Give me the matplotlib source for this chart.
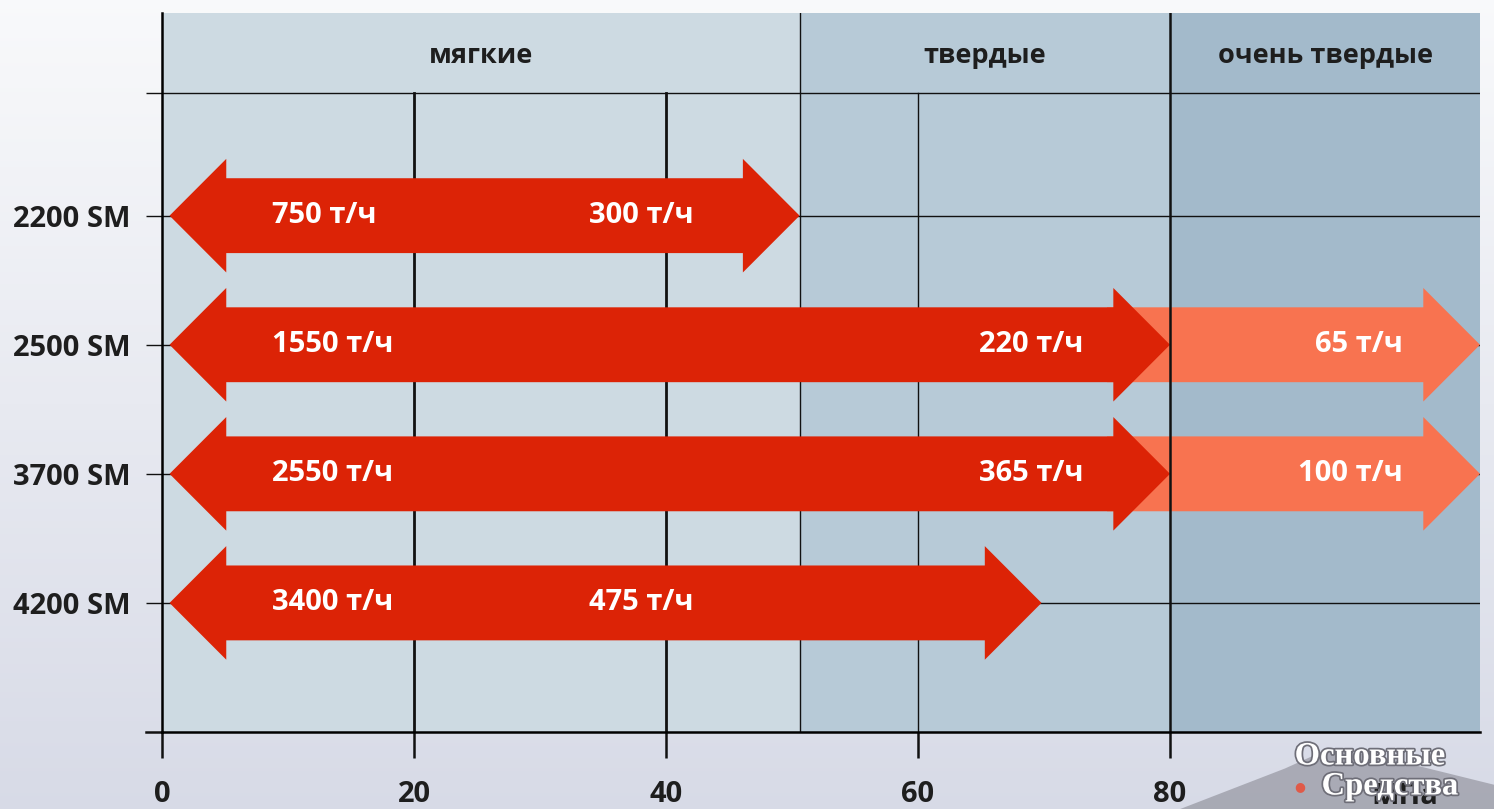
import numpy as np
import matplotlib
matplotlib.use('Agg')
import matplotlib.pyplot as plt
from matplotlib.patches import Polygon
import matplotlib.patheffects as pe

plt.rcParams['font.family'] = ['Open Sans', 'DejaVu Sans']

# data
models = ['2200 SM', '2500 SM', '3700 SM', '4200 SM']
rows = [4, 3, 2, 1]
red_start = [0.6, 0.6, 0.6, 0.6]
red_end = [50.6, 80, 80, 69.8]
orange_start = [None, 75, 75, None]
orange_end = [None, 104.6, 104.6, None]
soft_labels = ['750 т/ч', '1550 т/ч', '2550 т/ч', '3400 т/ч']
mid_labels = ['300 т/ч', '220 т/ч', '365 т/ч', '475 т/ч']
mid_x = [33.9, 64.8, 64.8, 33.9]
hard_labels = [None, '65 т/ч', '100 т/ч', None]

zone_names = ['мягкие', 'твердые', 'очень твердые']
zone_edges = [0, 50.6, 80, 104.6]
zone_colors = ['#cddae2', '#b7cad7', '#a3bacb']
xticks = [0, 20, 40, 60, 80]

HEADER = 4.95
TOP = 5.57
XMAX = 104.6
HL, HH, SH = 4.5, 0.44, 0.29  # arrow head length, head half height, shaft half height
RED = '#dc2306'
ORANGE = '#f87350'
FS = 21


def arrow_pts(x0, x1, y, left=True):
    pts = []
    if left:
        pts += [(x0, y), (x0 + HL, y + HH), (x0 + HL, y + SH)]
    else:
        pts += [(x0, y - SH), (x0, y + SH)]
    pts += [(x1 - HL, y + SH), (x1 - HL, y + HH), (x1, y),
            (x1 - HL, y - HH), (x1 - HL, y - SH)]
    if left:
        pts += [(x0 + HL, y - SH), (x0 + HL, y - HH)]
    return pts


fig = plt.figure(figsize=(14.94, 8.09), dpi=100)

# soft background behind everything
bg = fig.add_axes([0, 0, 1, 1], zorder=-10)
grad = np.linspace(0, 1, 256)[:, None, None]
top_c = np.array([0.975, 0.978, 0.985])
bot_c = np.array([0.845, 0.857, 0.905])
img = top_c * (1 - grad) + bot_c * grad
bg.imshow(np.repeat(img, 2, axis=1), extent=[0, 1, 0, 1], aspect='auto')
bg.add_patch(Polygon([(0.79, 0), (0.86, 0.05), (0.89, 0.075), (0.93, 0.062),
                      (1.0, 0.03), (1.0, 0)], closed=True,
                     facecolor='#8a8a94', alpha=0.6, edgecolor='none'))
bg.set_xlim(0, 1)
bg.set_ylim(0, 1)
bg.axis('off')

ax = fig.add_axes([162 / 1494, 77 / 809, 1318 / 1494, 719 / 809])
ax.patch.set_alpha(0)
ax.set_xlim(0, XMAX)
ax.set_ylim(0, TOP)

for i in range(3):
    ax.axvspan(zone_edges[i], zone_edges[i + 1], color=zone_colors[i], zorder=0, lw=0)
    ax.text((zone_edges[i] + zone_edges[i + 1]) / 2, (HEADER + TOP) / 2 - 0.02, zone_names[i],
            ha='center', va='center', fontsize=19.5, fontweight='bold', color='#1e1e1e')

# grid
for y in rows + [HEADER]:
    ax.plot([0, XMAX], [y, y], color='#111111', lw=1.0, zorder=1)
for x, w in zip([20, 40, 60], [2.0, 2.0, 1.0]):
    ax.plot([x, x], [0, HEADER], color='#111111', lw=w, zorder=1)
ax.plot([50.6, 50.6], [0, TOP], color='#111111', lw=1.0, zorder=1)
ax.plot([80, 80], [0, TOP], color='#111111', lw=1.8, zorder=4)

# arrows
for i, y in enumerate(rows):
    if orange_start[i] is not None:
        ax.add_patch(Polygon(arrow_pts(orange_start[i], orange_end[i], y, left=False),
                             closed=True, facecolor=ORANGE, edgecolor='none', zorder=2))
        ax.text(98.5, y, hard_labels[i], ha='right', va='center', color='white',
                fontsize=FS, fontweight='bold', zorder=5)
    ax.add_patch(Polygon(arrow_pts(red_start[i], red_end[i], y),
                         closed=True, facecolor=RED, edgecolor='none', zorder=3))
    ax.text(8.7, y, soft_labels[i], ha='left', va='center', color='white',
            fontsize=FS, fontweight='bold', zorder=5)
    ax.text(mid_x[i], y, mid_labels[i], ha='left', va='center', color='white',
            fontsize=FS, fontweight='bold', zorder=5)

# axes styling
for s in ['top', 'right']:
    ax.spines[s].set_visible(False)
ax.spines['left'].set_linewidth(1.8)
ax.spines['bottom'].set_linewidth(1.8)
ax.spines['left'].set_zorder(6)
ax.spines['bottom'].set_zorder(6)
ax.plot([-1.3, 0], [0, 0], color='#111111', lw=1.8, clip_on=False, zorder=6)

ax.set_yticks(rows + [HEADER])
ax.set_yticklabels(models + [''])
ax.tick_params(axis='y', length=11.5, width=1.0, pad=11, labelsize=FS, colors='#111111')
ax.set_xticks(xticks)
ax.set_xticklabels([str(v) for v in xticks])
ax.tick_params(axis='x', length=18.5, width=1.8, pad=16, labelsize=FS, colors='#111111')
for lab in ax.get_xticklabels() + ax.get_yticklabels():
    lab.set_fontweight('bold')
    lab.set_color('#1e1e1e')

ax.text(98.6, -0.5, 'МПа', ha='center', va='center', fontsize=FS,
        fontweight='bold', color='#1e1e1e', clip_on=False)

# watermark
wm = dict(family=['Liberation Serif', 'DejaVu Serif'], fontweight='bold', color='white',
          path_effects=[pe.withStroke(linewidth=2.5, foreground='#6e6e78')])
fig.text(1370 / 1494, 1 - 756 / 809, 'Основные', ha='center', va='center', fontsize=23.5, **wm)
fig.text(1390 / 1494, 1 - 786 / 809, 'Средства', ha='center', va='center', fontsize=23.5, **wm)
fig.text(1300 / 1494, 1 - 787 / 809, '●', ha='center', va='center', fontsize=9, color='#e05a48')

fig.savefig('out.png', dpi=100)
